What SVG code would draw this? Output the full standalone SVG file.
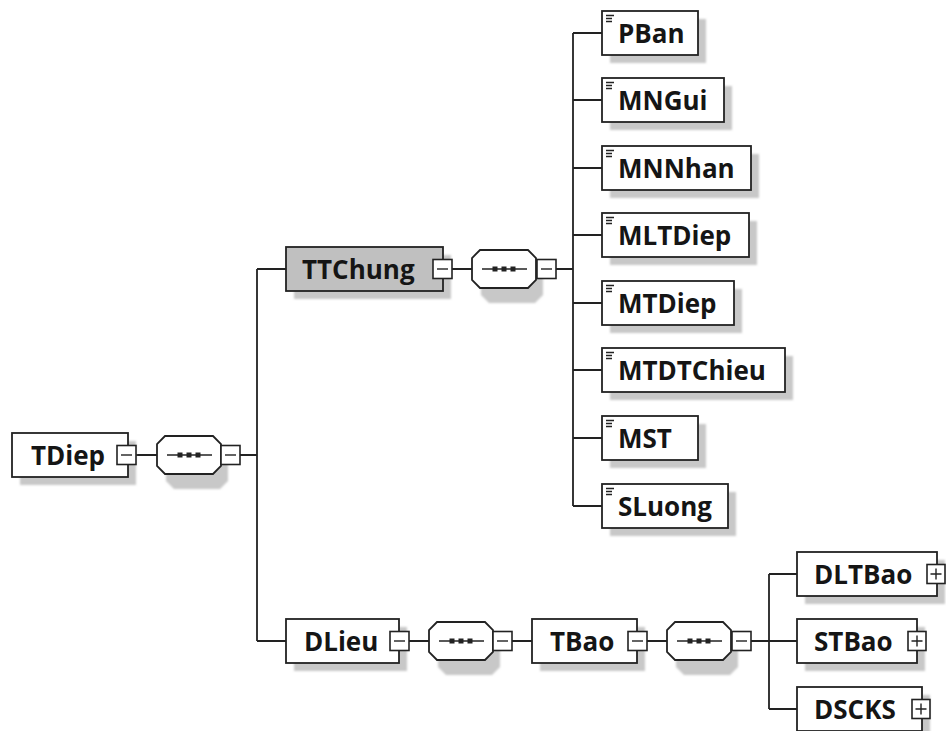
<svg xmlns="http://www.w3.org/2000/svg" width="946" height="731" viewBox="0 0 946 731">
<defs>
<filter id="blur" x="-10%" y="-20%" width="130%" height="150%"><feGaussianBlur stdDeviation="1.2"/></filter>
<g id="ico"><path d="M4 4.5h8M4 7.5h6M4 10.5h6" stroke="#222" stroke-width="1.5" fill="none"/></g>
<g id="minus"><rect x="0" y="0" width="19" height="19" fill="#fff" stroke="#222" stroke-width="1.6"/><path d="M4 9.5h11" stroke="#222" stroke-width="1.4"/></g>
<g id="plus"><rect x="0" y="0" width="18" height="19" fill="#fff" stroke="#222" stroke-width="1.6"/><path d="M3.5 9.5h11M9 4v11" stroke="#222" stroke-width="1.4"/></g>
<g id="seq"><path d="M10 8h46l8 8v22l-8 8h-46l-8-8v-22z" transform="translate(7,7)" fill="#c8c8c8" filter="url(#blur)"/><path d="M8 0h48l8 8v22l-8 8h-48l-8-8v-22z" fill="#fff" stroke="#222" stroke-width="1.8"/><path d="M10 19h45" stroke="#222" stroke-width="1.6"/><rect x="20.5" y="16.5" width="5" height="5" fill="#222"/><rect x="29.5" y="16.5" width="5" height="5" fill="#222"/><rect x="38.5" y="16.5" width="5" height="5" fill="#222"/></g>
</defs>
<style>
.bx{fill:#fff;stroke:#222;stroke-width:1.8}
.gr{fill:#c0c0c0}
.sh{fill:#c8c8c8;filter:url(#blur)}
.t{font-family:"Open Sans","Noto Sans","DejaVu Sans",sans-serif;font-weight:700;font-size:26px;fill:#151515}
.ln{stroke:#222;stroke-width:1.8;fill:none}
</style>
<rect width="946" height="731" fill="#fff"/>
<g id="connectors">
<path class="ln" d="M136 455H157M239 455H257M257 269V641M257 269H286M257 641H286"/>
<path class="ln" d="M452 269H472M556 269H573M573 33V506"/>
<path class="ln" d="M573 33H602M573 100H602M573 168H602M573 235H602M573 303H602M573 370H602M573 438H602M573 506H602"/>
<path class="ln" d="M409 641H429M512 641H532M647 641H667M751 641H769M769 574V709M769 574H797M769 641H797M769 709H797"/>
</g>
<g id="TDiep"><rect class="sh" x="20" y="441" width="116" height="44"/><rect class="bx" x="12" y="433" width="116" height="44"/><text class="t" x="31" y="465">TDiep</text><use href="#minus" x="117" y="445.5"/></g>
<g id="seq1"><use href="#seq" x="157" y="436"/><use href="#minus" x="221" y="445.5"/></g>
<g id="TTChung"><rect class="sh" x="294" y="255" width="157" height="44"/><rect class="bx gr" x="286" y="247" width="157" height="44"/><text class="t" x="302" y="279">TTChung</text><use href="#minus" x="433" y="259.5"/></g>
<g id="seq2"><use href="#seq" x="472" y="250"/><use href="#minus" x="537" y="259.5"/></g>
<g id="PBan"><rect class="sh" x="610" y="19" width="96" height="44"/><rect class="bx" x="602" y="11" width="96" height="44"/><use href="#ico" x="602" y="11"/><text class="t" x="618" y="43">PBan</text></g>
<g id="MNGui"><rect class="sh" x="610" y="86" width="122" height="44"/><rect class="bx" x="602" y="78" width="122" height="44"/><use href="#ico" x="602" y="78"/><text class="t" x="618" y="110">MNGui</text></g>
<g id="MNNhan"><rect class="sh" x="610" y="154" width="149" height="44"/><rect class="bx" x="602" y="146" width="149" height="44"/><use href="#ico" x="602" y="146"/><text class="t" x="618" y="178">MNNhan</text></g>
<g id="MLTDiep"><rect class="sh" x="610" y="221" width="147" height="44"/><rect class="bx" x="602" y="213" width="147" height="44"/><use href="#ico" x="602" y="213"/><text class="t" x="618" y="245">MLTDiep</text></g>
<g id="MTDiep"><rect class="sh" x="610" y="289" width="132" height="44"/><rect class="bx" x="602" y="281" width="132" height="44"/><use href="#ico" x="602" y="281"/><text class="t" x="618" y="313">MTDiep</text></g>
<g id="MTDTChieu"><rect class="sh" x="610" y="356" width="183" height="44"/><rect class="bx" x="602" y="348" width="183" height="44"/><use href="#ico" x="602" y="348"/><text class="t" x="618" y="380">MTDTChieu</text></g>
<g id="MST"><rect class="sh" x="610" y="424" width="96" height="44"/><rect class="bx" x="602" y="416" width="96" height="44"/><use href="#ico" x="602" y="416"/><text class="t" x="618" y="448">MST</text></g>
<g id="SLuong"><rect class="sh" x="610" y="492" width="126" height="44"/><rect class="bx" x="602" y="484" width="126" height="44"/><use href="#ico" x="602" y="484"/><text class="t" x="618" y="516">SLuong</text></g>
<g id="DLieu"><rect class="sh" x="294" y="627" width="113" height="44"/><rect class="bx" x="286" y="619" width="113" height="44"/><text class="t" x="304" y="651">DLieu</text><use href="#minus" x="390" y="631.5"/></g>
<g id="seq3"><use href="#seq" x="429" y="622"/><use href="#minus" x="493" y="631.5"/></g>
<g id="TBao"><rect class="sh" x="540" y="627" width="105" height="44"/><rect class="bx" x="532" y="619" width="105" height="44"/><text class="t" x="550" y="651">TBao</text><use href="#minus" x="628" y="631.5"/></g>
<g id="seq4"><use href="#seq" x="667" y="622"/><use href="#minus" x="732" y="631.5"/></g>
<g id="DLTBao"><rect class="sh" x="805" y="560" width="140" height="44"/><rect class="bx" x="797" y="552" width="140" height="44"/><text class="t" x="814" y="584">DLTBao</text><use href="#plus" x="927" y="564.5"/></g>
<g id="STBao"><rect class="sh" x="805" y="627" width="120" height="44"/><rect class="bx" x="797" y="619" width="120" height="44"/><text class="t" x="814" y="651">STBao</text><use href="#plus" x="908" y="631.5"/></g>
<g id="DSCKS"><rect class="sh" x="805" y="695" width="125" height="44"/><rect class="bx" x="797" y="687" width="125" height="44"/><text class="t" x="814" y="719">DSCKS</text><use href="#plus" x="912" y="699.5"/></g>
</svg>
